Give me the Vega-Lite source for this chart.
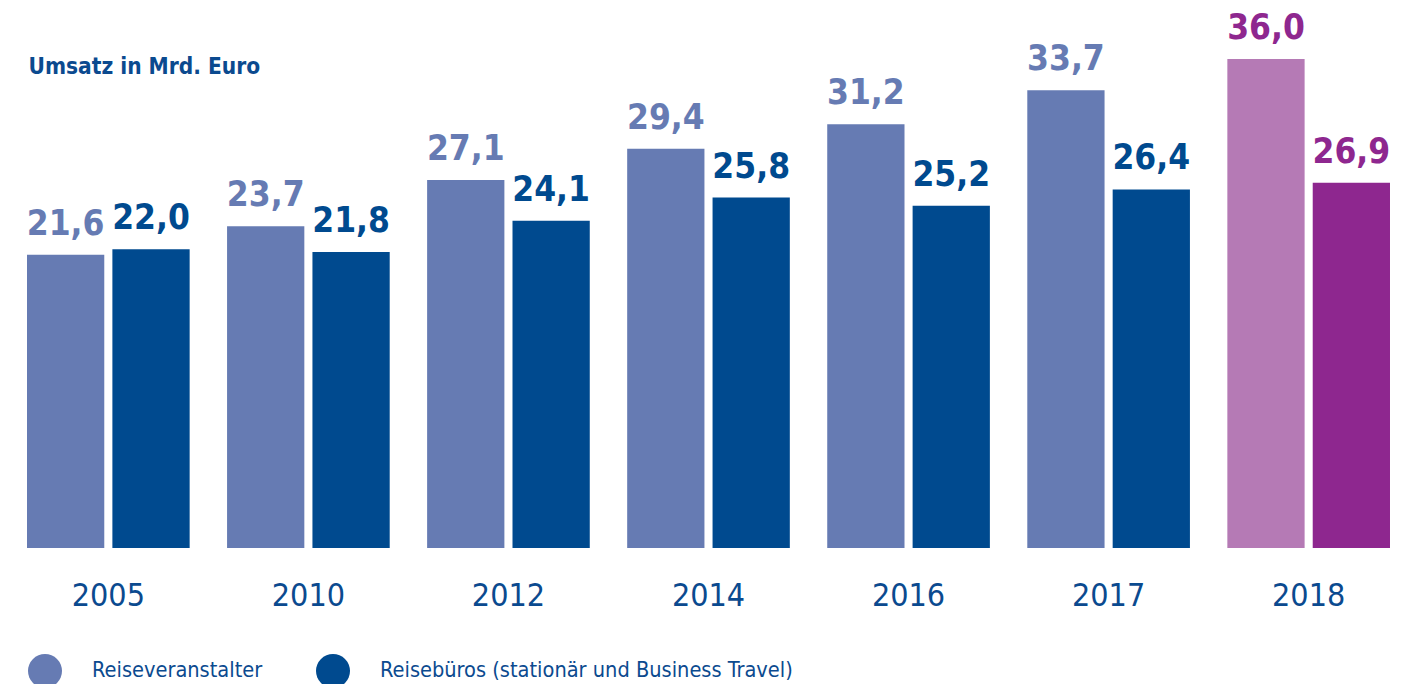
{
  "$schema": "https://vega.github.io/schema/vega-lite/v6.json",
  "width": 1417,
  "height": 548,
  "autosize": {"type": "none"},
  "padding": {"top": 0, "left": 0, "right": 0, "bottom": 136},
  "background": "white",
  "data": {
    "values": [
      {"year": "2005", "series": "Reiseveranstalter", "value": 21.6},
      {"year": "2005", "series": "Reisebüros (stationär und Business Travel)", "value": 22.0},
      {"year": "2010", "series": "Reiseveranstalter", "value": 23.7},
      {"year": "2010", "series": "Reisebüros (stationär und Business Travel)", "value": 21.8},
      {"year": "2012", "series": "Reiseveranstalter", "value": 27.1},
      {"year": "2012", "series": "Reisebüros (stationär und Business Travel)", "value": 24.1},
      {"year": "2014", "series": "Reiseveranstalter", "value": 29.4},
      {"year": "2014", "series": "Reisebüros (stationär und Business Travel)", "value": 25.8},
      {"year": "2016", "series": "Reiseveranstalter", "value": 31.2},
      {"year": "2016", "series": "Reisebüros (stationär und Business Travel)", "value": 25.2},
      {"year": "2017", "series": "Reiseveranstalter", "value": 33.7},
      {"year": "2017", "series": "Reisebüros (stationär und Business Travel)", "value": 26.4},
      {"year": "2018", "series": "Reiseveranstalter", "value": 36.0},
      {"year": "2018", "series": "Reisebüros (stationär und Business Travel)", "value": 26.9}
    ]
  },
  "encoding": {
    "x": {
      "field": "year",
      "type": "nominal",
      "scale": {"paddingInner": 0.187, "paddingOuter": 0.135},
      "axis": {
        "title": null,
        "domain": false,
        "ticks": false,
        "labelAngle": 0,
        "labelPadding": 32,
        "labelFont": "DejaVu Sans Condensed, Roboto, sans-serif",
        "labelFontSize": 32,
        "labelColor": "#0b4a8f"
      }
    },
    "xOffset": {
      "field": "series",
      "type": "nominal",
      "scale": {"domain": ["Reiseveranstalter", "Reisebüros (stationär und Business Travel)"], "paddingInner": 0.095, "paddingOuter": 0}
    },
    "y": {
      "field": "value",
      "type": "quantitative",
      "scale": {"domain": [0, 40.35], "nice": false, "zero": true},
      "axis": {
        "domain": false,
        "ticks": false,
        "labels": false,
        "grid": false,
        "title": "Umsatz in Mrd. Euro",
        "titleAngle": 0,
        "titleX": 28,
        "titleY": 73,
        "titleAlign": "left",
        "titleBaseline": "alphabetic",
        "titleFont": "DejaVu Sans Condensed, Roboto, sans-serif",
        "titleFontSize": 22.5,
        "titleFontWeight": "bold",
        "titleColor": "#0b4a8f"
      }
    }
  },
  "layer": [
    {
      "mark": {"type": "bar"},
      "encoding": {
        "color": {
          "condition": [
            {"test": "datum.year == '2018' && datum.series == 'Reiseveranstalter'", "value": "#b57ab5"},
            {"test": "datum.year == '2018'", "value": "#8e278f"}
          ],
          "field": "series",
          "type": "nominal",
          "scale": {
            "domain": ["Reiseveranstalter", "Reisebüros (stationär und Business Travel)"],
            "range": ["#667bb3", "#004a8f"]
          },
          "legend": {
            "title": null,
            "orient": "none",
            "direction": "horizontal",
            "legendX": 28,
            "legendY": 654,
            "symbolType": "circle",
            "symbolSize": 1156,
            "symbolStrokeWidth": 0,
            "symbolOpacity": 1,
            "labelOffset": 30,
            "columnPadding": 53,
            "labelFont": "DejaVu Sans Condensed, Roboto, sans-serif",
            "labelFontSize": 21.6,
            "labelColor": "#0b4a8f",
            "labelLimit": 600
          }
        }
      }
    },
    {
      "mark": {
        "type": "text",
        "baseline": "alphabetic",
        "dy": -20,
        "font": "DejaVu Sans Condensed, Roboto, sans-serif",
        "fontSize": 35,
        "fontWeight": "bold"
      },
      "encoding": {
        "text": {"field": "value", "type": "quantitative", "format": ".1f"},
        "color": {
          "condition": [
            {"test": "datum.year == '2018'", "value": "#8e278f"}
          ],
          "field": "series",
          "type": "nominal",
          "scale": {
            "domain": ["Reiseveranstalter", "Reisebüros (stationär und Business Travel)"],
            "range": ["#667bb3", "#004a8f"]
          },
          "legend": null
        }
      }
    }
  ],
  "config": {
    "view": {"stroke": null},
    "locale": {
      "number": {"decimal": ",", "thousands": ".", "grouping": [3], "currency": ["", " €"]}
    }
  }
}
